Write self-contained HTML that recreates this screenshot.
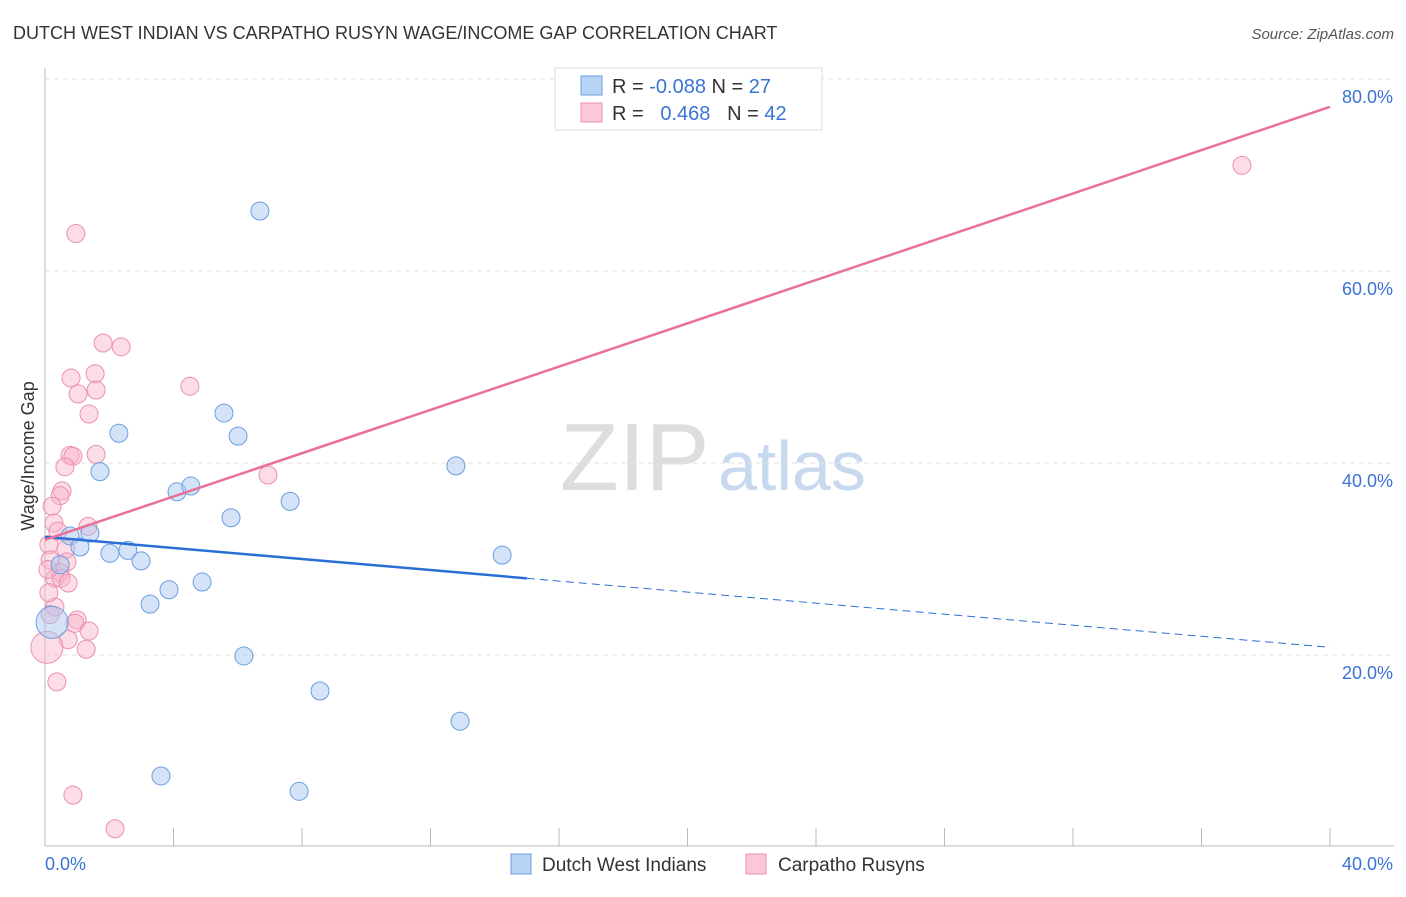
<!DOCTYPE html>
<html><head><meta charset="utf-8"><style>
body{margin:0;background:#fff;font-family:"Liberation Sans",sans-serif;}
svg text{font-family:"Liberation Sans",sans-serif;}
</style></head><body>
<svg id="c" width="1406" height="892">
<text x="13" y="39" font-size="18" fill="#333">DUTCH WEST INDIAN VS CARPATHO RUSYN WAGE/INCOME GAP CORRELATION CHART</text>
<text x="1394" y="39" font-size="15" fill="#555" text-anchor="end" font-style="italic">Source: ZipAtlas.com</text>
<text x="560" y="490" font-size="96" fill="#ddd" font-family="Liberation Serif">ZIP</text>
<text x="718" y="490" font-size="70" fill="#c8d8ee">atlas</text>
<text transform="translate(34,456) rotate(-90)" font-size="18" fill="#333" text-anchor="middle">Wage/Income Gap</text>
<g id="grid"></g><g id="marks"></g>
<g>
<rect x="555" y="68" width="267" height="62" fill="#fff" stroke="#ddd"/>
<rect x="581" y="76" width="21" height="19" fill="#b8d4f5" stroke="#6a9fe0"/>
<rect x="581" y="103" width="21" height="19" fill="#fbc8d8" stroke="#eb8fb0"/>
<text x="612" y="93" font-size="20" fill="#333">R = <tspan fill="#3a74d4">-0.088</tspan>   N = <tspan fill="#3a74d4">27</tspan></text>
<text x="612" y="120" font-size="20" fill="#333" xml:space="preserve">R =   <tspan fill="#3a74d4">0.468</tspan>   N = <tspan fill="#3a74d4">42</tspan></text>
</g>
<g>
<rect x="511" y="854" width="20" height="20" fill="#b8d4f5" stroke="#6a9fe0"/>
<text x="542" y="871" font-size="19" fill="#333">Dutch West Indians</text>
<rect x="746" y="854" width="20" height="20" fill="#fbc8d8" stroke="#eb8fb0"/>
<text x="778" y="871" font-size="19" fill="#333">Carpatho Rusyns</text>
</g>
</svg>
<script>
const blueX=[6.69,2.30,5.57,6.01,1.71,4.11,4.54,5.79,7.63,12.79,0.78,1.40,1.09,2.02,2.58,2.99,14.23,0.47,4.89,3.86,3.27,0.22,6.19,8.56,12.92,3.61,7.91];
const blueY=[66.25,43.1,45.2,42.8,39.1,37.0,37.6,34.3,36.0,39.7,32.4,32.7,31.25,30.6,30.9,29.8,30.4,29.4,27.6,26.8,25.3,23.4,19.9,16.25,13.1,7.4,5.8];
const pinkX=[0.96,37.26,1.81,2.37,0.81,1.56,1.03,1.59,4.51,1.37,0.78,0.87,1.59,0.62,6.94,0.53,0.47,0.22,0.28,1.34,0.12,0.65,0.40,0.68,0.16,0.47,0.31,0.50,0.72,0.31,0.12,1.00,0.93,1.37,0.72,0.06,1.28,0.37,0.87,2.18,0.16,0.09];
const pinkY=[63.9,71.0,52.5,52.1,48.85,49.3,47.2,47.6,48.0,45.1,40.8,40.7,40.9,39.6,38.75,37.1,36.6,35.5,33.75,33.4,31.5,31.0,32.9,29.7,29.9,28.6,28.0,28.0,27.5,25.0,26.5,23.65,23.3,22.5,21.6,20.8,20.6,17.2,5.4,1.9,24.2,28.9];
const blueTrend=[32.3,20.8], blueSolidEnd=15;
const pinkTrend=[32.0,77.1];
const yTicks=[20,40,60,80];
const xTickLabels=["0.0%","40.0%"];
const NS="http://www.w3.org/2000/svg";
const sx=v=>45+v*32.125, sy=v=>847-v*9.6;
function mk(t,a,p){const e=document.createElementNS(NS,t);for(const k in a)e.setAttribute(k,a[k]);p.appendChild(e);return e;}
const g=document.getElementById('grid'),m=document.getElementById('marks');
mk('line',{x1:45,y1:68,x2:45,y2:846,stroke:'#bbb'},g);
mk('line',{x1:45,y1:846,x2:1394,y2:846,stroke:'#bbb'},g);
for(let i=0;i<=10;i++){const l=mk('line',{x1:sx(i*4),y1:828,x2:sx(i*4),y2:846,stroke:'#bbb'},g);

}
yTicks.forEach(v=>{const l=mk('line',{x1:45,y1:sy(v),x2:1394,y2:sy(v),stroke:'#e2e2e2','stroke-dasharray':'5,4'},g);


const t=mk('text',{x:1393,y:sy(v)+24,'font-size':18,fill:'#3a74d4','text-anchor':'end'},g);t.textContent=v.toFixed(1)+'%';

});
xTickLabels.forEach((s,i)=>{const t=mk('text',{x:i?1393:45,y:870,'font-size':18,fill:'#3a74d4','text-anchor':i?'end':'start'},g);t.textContent=s;

});
function pts(X,Y,fill,stroke,name){X.forEach((x,i)=>{const big=(name==='blue-point'&&i===21)||(name==='pink-point'&&i===35);
const c=mk('circle',{cx:sx(x),cy:sy(Y[i]),r:big?16:9,fill:fill,stroke:stroke,'stroke-width':1},m);

});}
pts(pinkX,pinkY,'rgba(248,180,200,0.45)','#eb8fb0','pink-point');
pts(blueX,blueY,'rgba(170,200,240,0.5)','#6a9fe0','blue-point');
const bAt=x=>blueTrend[0]+(blueTrend[1]-blueTrend[0])*x/40;
const l1=mk('line',{x1:sx(0),y1:sy(bAt(0)),x2:sx(blueSolidEnd),y2:sy(bAt(blueSolidEnd)),stroke:'#2a6fd6','stroke-width':2.5},m);


const l2=mk('line',{x1:sx(blueSolidEnd),y1:sy(bAt(blueSolidEnd)),x2:sx(40),y2:sy(bAt(40)),stroke:'#2a6fd6','stroke-width':1,'stroke-dasharray':'8,5'},m);


const l3=mk('line',{x1:sx(0),y1:sy(pinkTrend[0]),x2:sx(40),y2:sy(pinkTrend[1]),stroke:'#e8709a','stroke-width':2.5},m);


</script>
</body></html>
